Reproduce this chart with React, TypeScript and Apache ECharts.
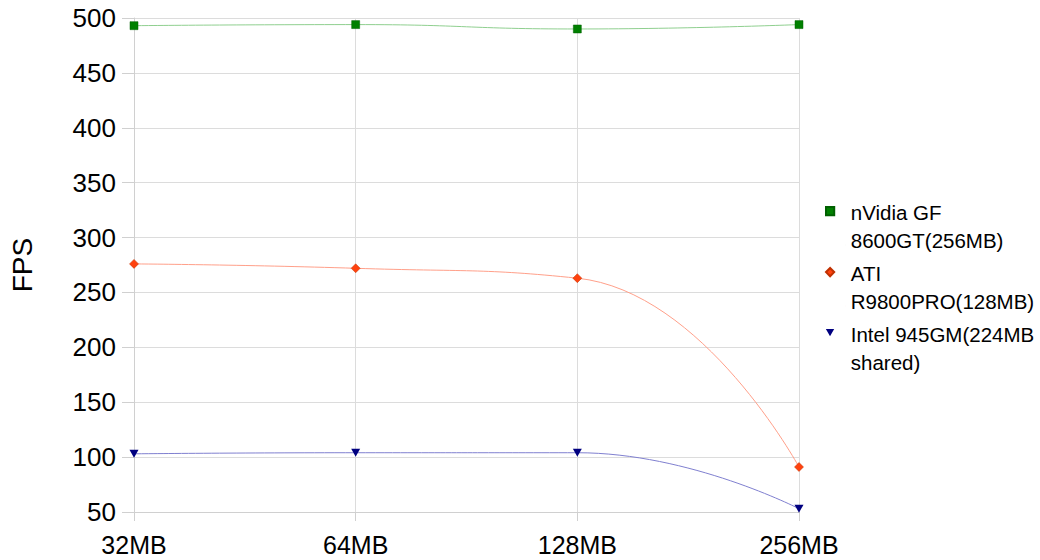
import React, { useEffect, useRef } from "react";
import * as echarts from "echarts";

const categories = ["32MB", "64MB", "128MB", "256MB"];
const nvidiaValues = [493, 494, 490, 494];
const atiValues = [276, 272, 263, 91];
const intelValues = [103, 104, 104, 53];
const seriesNames = ["nVidia GF 8600GT(256MB)", "ATI R9800PRO(128MB)", "Intel 945GM(224MB shared)"];
const legendLabels: Record<string, string> = {
  "nVidia GF 8600GT(256MB)": "nVidia GF\n8600GT(256MB)",
  "ATI R9800PRO(128MB)": "ATI\nR9800PRO(128MB)",
  "Intel 945GM(224MB shared)": "Intel 945GM(224MB\nshared)",
};

// legend icons: the shape sits at the top-left, a degenerate point widens the box
const ICON_SQUARE = "path://M1,1L9,1L9,9L1,9Z M20,38L20.01,38Z";
const ICON_DIAMOND = "path://M5,1L9,5L5,9L1,5Z M20,38L20.01,38Z";
const ICON_TRI = "path://M1,1.5L9,1.5L5,8.5Z M20,38L20.01,38Z";
const TRI = "path://M0,0L10,0L5,9Z";

export default function App() {
  const ref = useRef<HTMLDivElement>(null);
  useEffect(() => {
    if (!ref.current) return;
    const chart = echarts.init(ref.current, null, { renderer: "svg" });
    const font = "'Liberation Sans', Arial, sans-serif";
    chart.setOption({
      animation: false,
      backgroundColor: "#ffffff",
      textStyle: { fontFamily: font },
      grid: { left: 130, right: 241, top: 18, bottom: 48 },
      legend: {
        orient: "vertical",
        left: 820,
        top: 193,
        itemWidth: 20,
        itemHeight: 38,
        itemGap: 5,
        formatter: (n: string) => legendLabels[n] || n,
        textStyle: { fontSize: 20.5, color: "#000", lineHeight: 28, fontFamily: font },
        data: [
          { name: seriesNames[0], icon: ICON_SQUARE },
          { name: seriesNames[1], icon: ICON_DIAMOND },
          { name: seriesNames[2], icon: ICON_TRI },
        ],
      },
      xAxis: {
        type: "category",
        data: categories,
        boundaryGap: false,
        axisLine: { show: true, lineStyle: { color: "#d0d0d0" } },
        axisTick: { show: true, length: 9, lineStyle: { color: "#d0d0d0" } },
        axisLabel: { fontSize: 25, lineHeight: 25, color: "#000", margin: 20, fontFamily: font },
        splitLine: { show: true, lineStyle: { color: "#dcdcdc" } },
      },
      yAxis: {
        type: "value",
        min: 50,
        max: 500,
        interval: 50,
        name: "FPS",
        nameLocation: "middle",
        nameGap: 98,
        nameTextStyle: { fontSize: 28, color: "#000", fontFamily: font },
        axisLine: { show: true, lineStyle: { color: "#d0d0d0" } },
        axisTick: { show: true, length: 12, lineStyle: { color: "#d0d0d0" } },
        axisLabel: { fontSize: 26, color: "#000", margin: 18, fontFamily: font },
        splitLine: { show: true, lineStyle: { color: "#dcdcdc" } },
      },
      series: [
        {
          name: seriesNames[0],
          type: "line",
          data: nvidiaValues,
          smooth: 0.5,
          symbol: "rect",
          symbolSize: 8,
          itemStyle: { color: "#008000", borderColor: "#006000", borderWidth: 0.5 },
          lineStyle: { color: "#8fcf8f", width: 1 },
        },
        {
          name: seriesNames[1],
          type: "line",
          data: atiValues,
          smooth: 0.5,
          symbol: "diamond",
          symbolSize: 9,
          itemStyle: { color: "#ff420e", borderColor: "#c03000", borderWidth: 0.5 },
          lineStyle: { color: "#ffa08a", width: 1 },
        },
        {
          name: seriesNames[2],
          type: "line",
          data: intelValues,
          smooth: 0.5,
          symbol: TRI,
          symbolSize: [9, 8],
          itemStyle: { color: "#000080" },
          lineStyle: { color: "#8080d0", width: 1 },
        },
      ],
    });
    return () => chart.dispose();
  }, []);
  return <div ref={ref} style={{ width: 1040, height: 560, position: "absolute", left: 0, top: 0 }} />;
}
